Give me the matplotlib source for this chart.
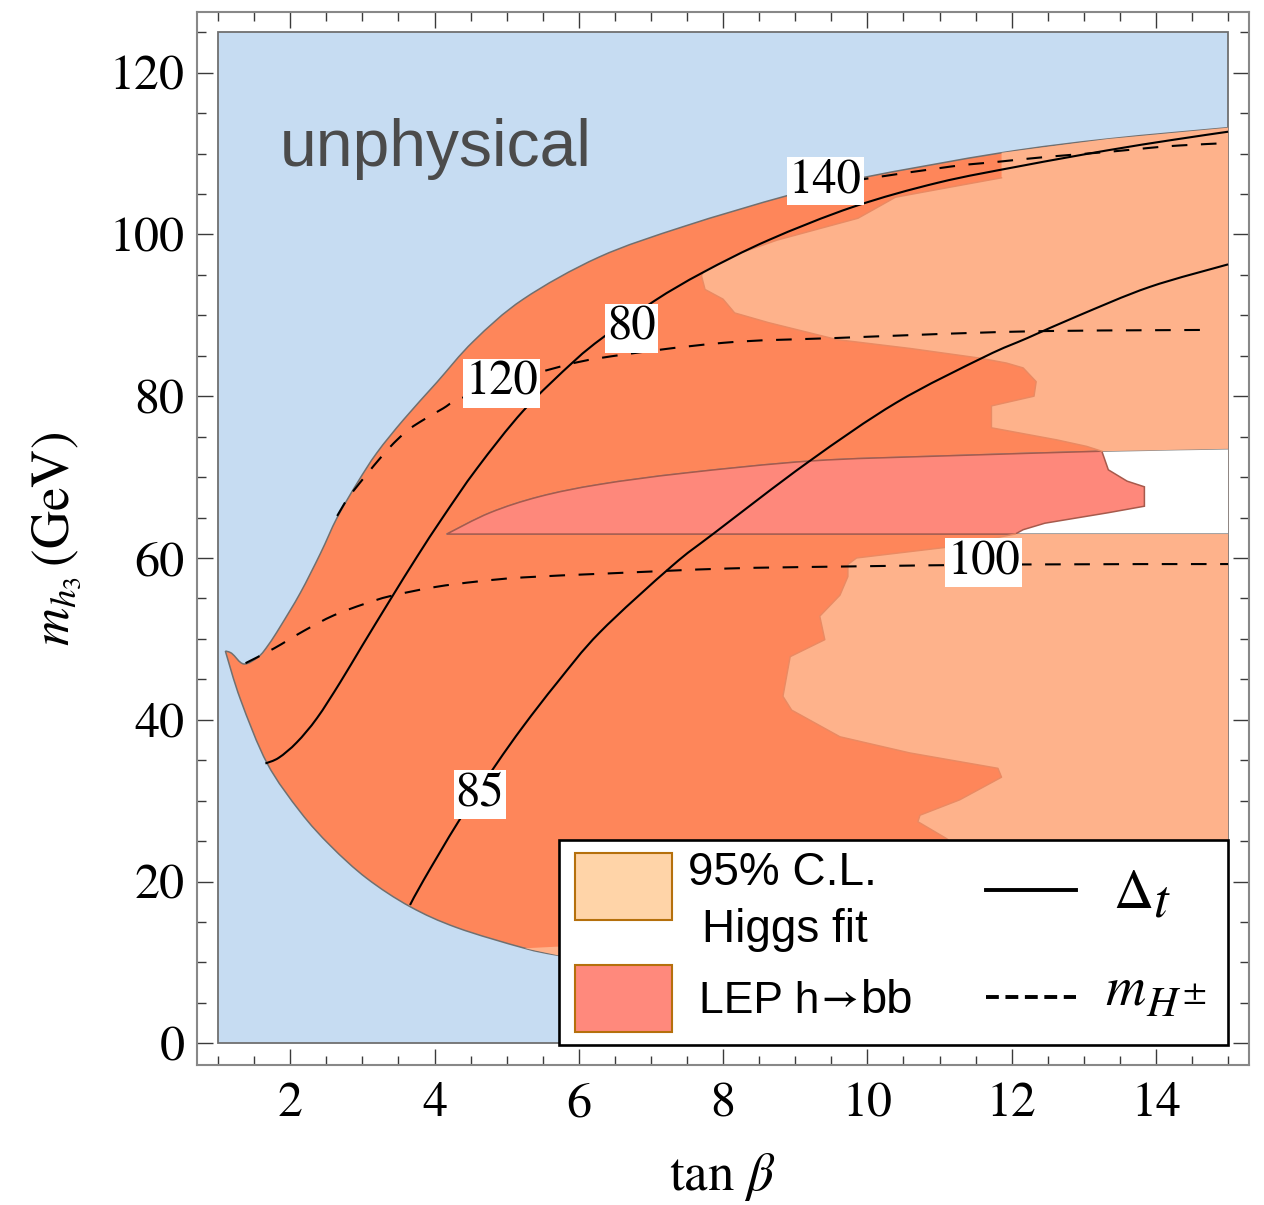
import numpy as np
import matplotlib
matplotlib.use("Agg")
import matplotlib.pyplot as plt
from matplotlib.patches import Rectangle, Polygon, PathPatch
from matplotlib.path import Path
from matplotlib.lines import Line2D

from matplotlib.ticker import MultipleLocator

# ---------------------------------------------------------------- data
# physical region: boundary above and below (outside is unphysical)
upper_tb = [1.10, 1.19, 1.355, 1.56, 1.70, 1.86, 2.14, 2.42, 2.65, 2.93, 3.20,
            3.57, 4.03, 4.54, 5.23, 6.28, 7.46, 8.89, 9.92, 11.86, 13.33, 15.0]
upper_m = [48.5, 48.2, 46.9, 47.8, 49.3, 51.5, 55.7, 60.6, 65.0, 69.3, 73.0,
           77.1, 81.7, 86.8, 92.0, 97.2, 101.0, 104.8, 107.0, 110.1, 111.8, 113.2]
lower_tb = [1.10, 1.31, 1.68, 2.14, 2.56, 3.06, 3.66, 4.31, 5.23, 5.70,
            6.5, 8.0, 10.0, 12.0, 15.0]
lower_m = [48.5, 42.5, 34.6, 28.6, 24.4, 20.4, 16.9, 14.3, 11.8, 10.9,
           9.8, 8.3, 7.0, 6.2, 5.3]

# narrow band between m_h3 = 63 GeV and its upper edge
band_top_tb = [4.17, 4.77, 5.46, 6.29, 7.47, 9.23, 10.99, 13.25, 15.0]
band_top_m = [62.96, 65.6, 67.6, 69.1, 70.5, 72.0, 72.6, 73.2, 73.5]
band_floor = 62.96

# LEP h -> bb excluded region: right-hand edge inside the band
lep_edge_tb = [13.34, 13.60, 13.84, 13.84, 13.34, 12.46, 12.16, 12.05]
lep_edge_m = [70.9, 69.5, 68.8, 66.4, 65.6, 64.3, 63.5, 62.96]

# 95% C.L. Higgs fit: upper lobe edge
fit_hi_tb = [13.25, 13.04, 12.63, 11.72, 11.72, 12.31, 12.34, 12.16, 11.93, 11.57,
             10.6, 9.58, 8.63, 8.16, 8.0, 7.75, 7.70, 7.74, 8.22, 8.75, 9.87,
             10.39, 11.0, 11.86, 11.86]
fit_hi_m = [73.2, 73.8, 74.6, 76.1, 78.8, 80.0, 81.8, 83.5, 84.1, 84.7,
            85.9, 87.0, 89.1, 90.3, 92.0, 93.2, 94.9, 95.6, 97.65, 99.3, 102.0,
            104.6, 105.6, 107.0, 110.1]
# 95% C.L. Higgs fit: lower lobe edge
fit_lo_tb = [12.05, 11.17, 9.85, 9.73, 9.73, 9.62, 9.34, 9.41, 8.93, 8.83, 8.95,
             9.62, 10.59, 11.81, 11.86, 11.28, 10.73, 10.70, 11.10, 11.5]
fit_lo_m = [62.96, 61.4, 60.0, 59.2, 57.7, 55.4, 52.8, 49.9, 47.8, 42.9, 41.2,
            37.9, 35.9, 34.0, 32.9, 30.1, 28.2, 27.4, 25.3, 22.0]
fit_lo_floor = 22.0
# thin strip of the fit along the lower boundary
fit_strip_tb = [5.25, 5.70, 6.30, 6.30, 5.70, 5.25]
fit_strip_m = [11.75, 11.95, 11.95, 10.0, 10.9, 11.75]

# Delta_t contours
dt80_tb = [1.655, 1.84, 2.09, 2.37, 2.69, 3.00, 3.39, 3.76, 4.12, 4.59, 5.23,
           5.93, 6.34, 7.05, 7.72, 8.63, 9.80, 10.98, 12.15, 13.33, 14.24, 15.0]
dt80_m = [34.6, 35.3, 37.2, 40.2, 44.6, 49.2, 54.9, 60.2, 65.1, 71.1, 78.2,
          84.3, 87.3, 91.8, 95.3, 99.3, 103.4, 106.4, 108.5, 110.4, 111.7, 112.7]
dt85_tb = [3.66, 3.85, 4.33, 4.84, 5.23, 5.70, 6.29, 7.29, 7.88, 9.17, 10.40,
           11.63, 12.22, 12.91, 13.91, 15.0]
dt85_m = [17.1, 20.2, 27.4, 34.3, 39.2, 44.6, 50.8, 59.0, 63.1, 71.8, 79.2,
          84.9, 87.2, 89.9, 93.5, 96.3]

# charged Higgs mass contours
mh100_tb = [1.38, 1.77, 2.19, 2.60, 3.02, 3.39, 4.0, 4.6, 5.23, 6.43, 8.06,
            9.70, 12.16, 15.0]
mh100_m = [47.0, 48.8, 51.0, 52.9, 54.3, 55.3, 56.4, 57.1, 57.6, 58.1, 58.7,
           58.95, 59.2, 59.25]
mh120_tb = [2.65, 2.80, 3.02, 3.29, 3.48, 3.66, 3.85, 4.12, 4.31, 4.93, 5.51,
            6.28, 8.0, 9.57, 12.15, 14.79]
mh120_m = [65.2, 67.4, 69.9, 72.8, 74.6, 76.0, 77.1, 78.5, 79.5, 81.7, 83.1,
           84.7, 86.6, 87.2, 88.0, 88.2]
mh140_tb = [9.4, 9.92, 11.16, 11.83, 12.5, 13.33, 13.91, 14.33, 15.0]
mh140_m = [106.1, 106.8, 108.4, 109.0, 109.6, 110.2, 110.7, 111.0, 111.3]

# contour labels
label_text = ["140", "80", "120", "100", "85"]
label_tb = [9.415, 6.73, 4.93, 11.61, 4.63]
label_m = [106.6, 88.4, 81.6, 59.4, 30.8]

xticks_major = [2, 4, 6, 8, 10, 12, 14]
yticks_major = [0, 20, 40, 60, 80, 100, 120]

# ---------------------------------------------------------------- helpers
def curve(xs, ys):
    """Vertices/codes of a smooth cubic Bezier curve passing through the points."""
    p = np.c_[xs, ys].astype(float)
    n = len(p)
    verts = [p[0]]
    codes = [Path.MOVETO]
    for i in range(n - 1):
        p0 = p[max(i - 1, 0)]
        p1 = p[i]
        p2 = p[i + 1]
        p3 = p[min(i + 2, n - 1)]
        verts += [p1 + (p2 - p0) / 6.0, p2 - (p3 - p1) / 6.0, p2]
        codes += [Path.CURVE4] * 3
    return verts, codes


def polyline(xs, ys):
    p = np.c_[xs, ys].astype(float)
    return list(p), [Path.MOVETO] + [Path.LINETO] * (len(p) - 1)


def join(*parts):
    """Chain several pieces into one closed outline."""
    verts, codes = [], []
    for k, (v, c) in enumerate(parts):
        verts += v
        codes += c if k == 0 else [Path.LINETO] + c[1:]
    verts.append(verts[0])
    codes.append(Path.CLOSEPOLY)
    return Path(verts, codes)


def rev(a):
    return list(a)[::-1]


# ---------------------------------------------------------------- style
BLUE = "#C6DCF2"
DARK = "#FE865A"
LIGHT = "#FEB28B"
LEP = "#FE887B"
EDGE = "#707070"
FIT_EDGE = "#E98A63"
LEP_EDGE = "#A65A4C"
DASH = (0, (7.5, 6.5))

plt.rcParams["mathtext.fontset"] = "stix"
plt.rcParams["font.family"] = ["STIXGeneral", "DejaVu Serif"]
SANS = ["Liberation Sans", "DejaVu Sans"]

fig = plt.figure(figsize=(12.64, 12.05), dpi=100)
ax = fig.add_axes([197 / 1264, 1 - 1065 / 1205, (1249 - 197) / 1264, (1065 - 12) / 1205])
ax.set_xlim(0.707, 15.29)
ax.set_ylim(-2.68, 127.5)

# unphysical background
ax.add_patch(Rectangle((1, 0), 14, 125, fc=BLUE, ec=EDGE, lw=1.3, zorder=1))

# physical region
phys = join(curve(upper_tb, upper_m), curve(rev(lower_tb), rev(lower_m)))
ax.add_patch(PathPatch(phys, fc=DARK, ec="none", zorder=2))
for xs, ys in [(upper_tb, upper_m), (lower_tb, lower_m)]:
    v, c = curve(xs, ys)
    ax.add_patch(PathPatch(Path(v, c), fill=False, ec=EDGE, lw=1.1, zorder=2.5))

# band (left uncovered on the far right)
band = join(curve(band_top_tb, band_top_m),
            polyline([15.0, band_top_tb[0]], [band_floor, band_floor]))
ax.add_patch(PathPatch(band, fc="white", ec="none", zorder=3))
v, c = curve(band_top_tb, band_top_m)
ax.add_patch(PathPatch(Path(v, c), fill=False, ec="#8a8a8a", lw=1.1, zorder=3.1))
ax.plot([band_top_tb[0], 15.0], [band_floor, band_floor], color="#8a8a8a", lw=1.1,
        zorder=3.1)

# LEP excluded region
n_lep = int(np.sum(np.array(band_top_tb) <= lep_edge_tb[0]))
lep = join(curve(band_top_tb[:n_lep], band_top_m[:n_lep]),
           polyline(lep_edge_tb + [band_top_tb[0]], lep_edge_m + [band_floor]))
ax.add_patch(PathPatch(lep, fc=LEP, ec=LEP_EDGE, lw=1.1, zorder=4))

# Higgs fit, upper lobe
ub_tb = np.array(upper_tb)
sel = ub_tb > fit_hi_tb[-1]
hi_x = np.r_[fit_hi_tb, ub_tb[sel], 15.0]
hi_y = np.r_[fit_hi_m, np.array(upper_m)[sel], band_top_m[-1]]
ax.add_patch(Polygon(np.c_[hi_x, hi_y], closed=True, fc=LIGHT, ec="none", zorder=4))
ax.plot(fit_hi_tb[:-1], fit_hi_m[:-1], color=FIT_EDGE, lw=1.0, zorder=4.1)

# Higgs fit, lower lobe
lo_x = np.r_[fit_lo_tb, 15.0, 15.0]
lo_y = np.r_[fit_lo_m, fit_lo_floor, band_floor]
ax.add_patch(Polygon(np.c_[lo_x, lo_y], closed=True, fc=LIGHT, ec="none", zorder=4))
ax.plot(fit_lo_tb, fit_lo_m, color=FIT_EDGE, lw=1.0, zorder=4.1)
ax.add_patch(Polygon(np.c_[fit_strip_tb, fit_strip_m], closed=True, fc=LIGHT,
                     ec="none", zorder=4))

# contours
for xs, ys in [(dt80_tb, dt80_m), (dt85_tb, dt85_m)]:
    v, c = curve(xs, ys)
    ax.add_patch(PathPatch(Path(v, c), fill=False, ec="black", lw=1.5, zorder=5))
for xs, ys in [(mh100_tb, mh100_m), (mh120_tb, mh120_m), (mh140_tb, mh140_m)]:
    v, c = curve(xs, ys)
    ax.add_patch(PathPatch(Path(v, c), fill=False, ec="black", lw=1.5, ls=DASH,
                           zorder=5))

for s, x, y in zip(label_text, label_tb, label_m):
    ax.text(x, y, s, ha="center", va="center", fontsize=35, color="black", zorder=6,
            bbox=dict(fc="white", ec="none", pad=1.5))

ax.text(1.86, 108.4, "unphysical", fontsize=47.5, color="#4b4b4b", family=SANS,
        ha="left", va="baseline", zorder=6)

# legend
T = ax.transAxes
ax.add_patch(Rectangle((0.3438, 0.019), 0.6362, 0.1947, transform=T, fc="white",
                       ec="black", lw=1.9, zorder=10))
ax.add_patch(Rectangle((0.3591, 0.1377), 0.0922, 0.0633, transform=T, fc="#FFD4A8",
                       ec="#B5700C", lw=1.5, zorder=11))
ax.add_patch(Rectangle((0.3591, 0.0316), 0.0922, 0.0634, transform=T, fc="#FF897C",
                       ec="#B5700C", lw=1.5, zorder=11))
ax.text(0.4666, 0.1709, "95% C.L.", transform=T, fontsize=33, family=SANS,
        ha="left", va="baseline", zorder=11)
ax.text(0.4798, 0.1171, "Higgs fit", transform=T, fontsize=33, family=SANS,
        ha="left", va="baseline", zorder=11)

# "LEP h→bb" with a small arrow: place the pieces one after another
renderer = fig.canvas.get_renderer()
to_axes = T.inverted()
piece = ax.text(0.4773, 0.0491, "LEP h", transform=T, fontsize=32, family=SANS,
                ha="left", va="baseline", zorder=11)
right = to_axes.transform(piece.get_window_extent(renderer).get_points())[1, 0]
piece = ax.text(right + 0.002, 0.0530, "\u2192", transform=T, fontsize=27,
                family=["STIXGeneral", "DejaVu Sans"], fontweight="bold",
                ha="left", va="baseline", zorder=11)
right = to_axes.transform(piece.get_window_extent(renderer).get_points())[1, 0]
ax.text(right + 0.002, 0.0491, "bb", transform=T, fontsize=34, family=SANS,
        ha="left", va="baseline", zorder=11)

ax.add_line(Line2D([0.7496, 0.8351], [0.1662, 0.1662], transform=T, color="black",
                   lw=2.8, zorder=11))
ax.add_line(Line2D([0.7496, 0.8351], [0.0649, 0.0649], transform=T, color="black",
                   lw=2.8, ls=(0, (3.3, 1.7)), zorder=11))
ax.text(0.8703, 0.1491, r"$\Delta$", transform=T, fontsize=40,
        ha="left", va="baseline", zorder=11)
ax.text(0.9090, 0.1410, r"$t$", transform=T, fontsize=38,
        ha="left", va="baseline", zorder=11)
ax.text(0.8631, 0.0570, r"$m$", transform=T, fontsize=40,
        ha="left", va="baseline", zorder=11)
ax.text(0.9025, 0.0470, r"$H$", transform=T, fontsize=31,
        ha="left", va="baseline", zorder=11)
ax.text(0.9360, 0.0610, r"$\pm$", transform=T, fontsize=25,
        ha="left", va="baseline", zorder=11)

# axes, ticks, labels
ax.set_xticks(xticks_major)
ax.set_yticks(yticks_major)
ax.xaxis.set_minor_locator(MultipleLocator(0.5))
ax.yaxis.set_minor_locator(MultipleLocator(5))
ax.tick_params(which="both", direction="in", top=True, right=True, color="#3a3a3a",
               width=1.0, labelsize=36)
ax.tick_params(axis="x", pad=12)
ax.tick_params(axis="y", pad=9)
ax.tick_params(which="major", length=11.5)
ax.tick_params(which="minor", length=6.5)
for sp in ax.spines.values():
    sp.set_color("#888888")
    sp.set_linewidth(1.5)

ax.set_xlabel(r"$\tan\,\beta$", fontsize=38, va="center")
ax.set_ylabel(r"$m_{h_3}\,(\mathrm{GeV})$", fontsize=38, va="center")
ax.xaxis.set_label_coords(0.499, -0.106)
ax.yaxis.set_label_coords(-0.133, 0.5)

fig.savefig("out.png", dpi=100)
